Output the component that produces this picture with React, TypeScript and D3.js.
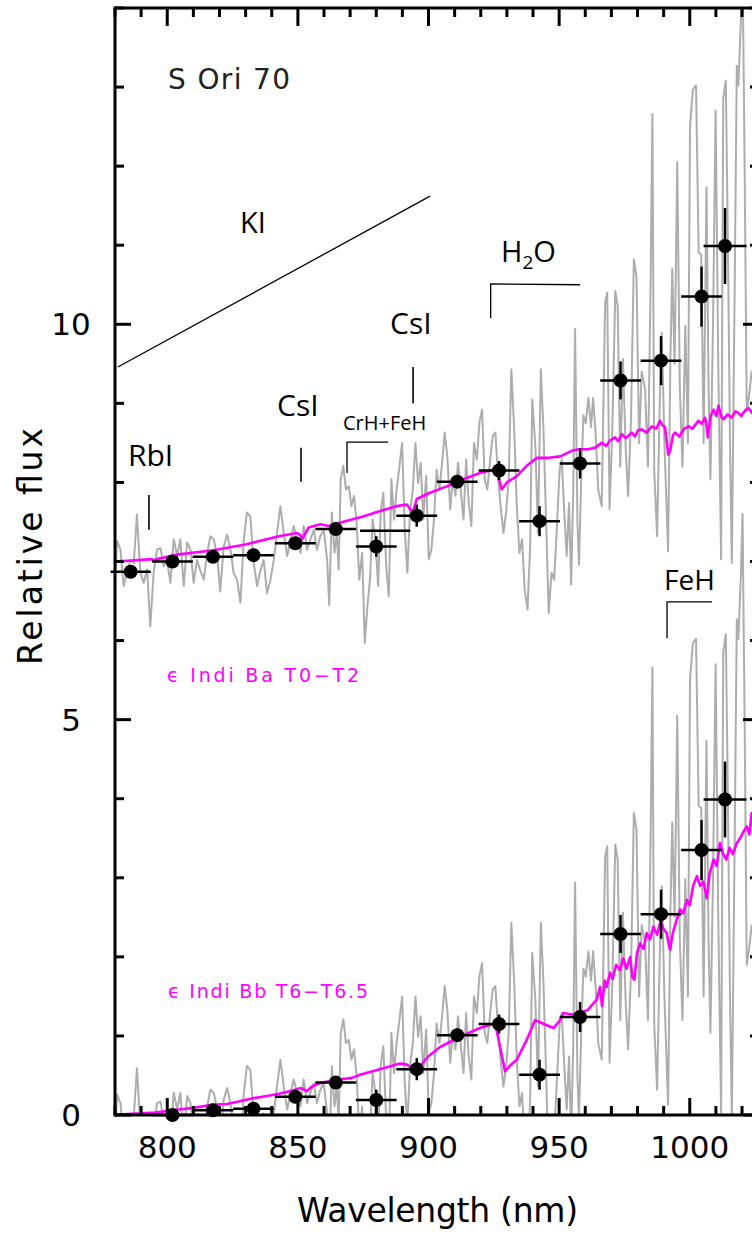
import React from 'react';
import * as d3 from 'd3';

const W = 752;
const H = 1237;
const xDomain = [780, 1026.5];
const yDomain = [0, 14];
const xMajorTicks = [800, 850, 900, 950, 1000];
const yMajorTicks = [0, 5, 10];
const OFFSET = 7; // upper copy is shifted by +7

// S Ori 70 observed spectrum (gray), un-offset relative flux
const specWl = [780.0,780.8,782.1,783.3,784.6,785.9,787.2,788.4,789.7,791.0,792.3,793.5,794.8,796.1,797.4,798.6,799.9,801.2,802.5,803.8,805.0,806.3,807.6,808.9,810.1,811.4,812.7,814.0,815.2,816.5,817.8,819.1,820.3,821.6,822.9,824.2,825.4,826.7,828.0,829.3,830.5,831.8,833.1,834.4,835.6,836.9,838.2,839.5,840.8,842.0,843.3,844.6,845.9,847.1,848.4,849.7,851.0,852.2,853.5,854.8,856.1,857.3,858.6,859.9,861.2,862.0,863.0,864.0,864.9,865.6,866.4,867.4,868.4,869.5,870.5,871.5,872.5,873.5,874.6,875.6,876.6,877.6,878.6,879.7,880.7,881.7,882.7,883.8,884.8,885.8,886.8,887.8,888.9,889.9,890.9,891.9,892.9,894.0,895.0,896.0,897.0,898.0,899.1,900.1,901.1,902.1,903.1,904.2,905.2,906.2,907.2,908.3,909.3,910.3,911.3,912.3,913.4,914.4,915.4,916.4,917.4,918.5,919.5,920.5,921.5,922.5,923.6,924.6,925.6,926.6,927.6,928.7,929.7,930.7,931.7,932.8,933.8,934.8,935.8,936.8,937.9,938.9,939.7,940.9,941.9,943.0,944.0,945.0,946.0,947.1,948.1,949.1,950.2,951.0,952.0,952.9,953.8,954.6,955.4,956.1,957.0,957.6,958.5,959.3,960.2,961.2,962.2,963.0,964.0,965.0,966.3,967.6,968.4,969.3,970.3,971.5,972.4,973.4,974.4,975.5,976.4,977.5,978.6,979.6,980.6,981.6,982.9,984.0,985.0,985.7,986.4,987.5,988.5,989.3,990.3,991.7,992.6,993.3,994.2,995.2,996.2,997.2,998.3,999.3,1000.1,1001.2,1002.4,1003.4,1004.4,1005.3,1006.4,1007.2,1007.9,1008.9,1009.9,1010.9,1012.0,1012.8,1013.8,1014.6,1015.4,1016.1,1017.2,1018.0,1018.6,1019.6,1020.2,1021.0,1021.8,1022.7,1023.7,1024.6,1025.6,1026.5];
const specFlux = [-0.23,0.26,0.15,-0.31,-0.14,0.02,-0.02,0.59,-0.14,-0.27,-0.10,-0.82,-0.14,0.15,0.17,-0.06,0.02,-0.27,0.28,0.07,0.28,-0.31,0.24,0.15,-0.27,0.02,-0.12,-0.23,0.09,0.32,0.28,0.07,-0.38,0.19,0.34,0.15,-0.14,-0.23,-0.52,0.28,0.62,0.57,-0.02,-0.31,-0.12,0.02,-0.40,-0.23,0.02,0.36,0.70,0.36,0.07,0.26,0.45,0.28,0.11,0.45,0.15,0.28,0.40,0.15,0.32,0.40,0.02,-0.55,0.62,0.11,0.36,-0.10,1.04,1.21,0.91,0.95,0.70,0.83,0.49,-0.23,0.11,-1.03,-0.57,-0.23,0.53,0.28,-0.31,0.62,0.87,-0.06,-0.44,1.04,0.53,0.91,1.21,1.50,0.41,-0.14,0.62,0.91,1.50,0.99,1.25,0.53,1.08,0.03,0.15,0.53,1.16,0.91,1.25,1.63,1.33,0.66,1.04,0.83,1.25,0.91,0.53,1.29,0.74,0.45,1.50,1.29,1.76,1.92,1.04,0.91,1.29,1.59,1.63,1.08,0.70,0.36,0.62,1.04,2.43,1.67,0.70,0.11,0.28,-0.35,-0.61,0.19,2.05,1.46,0.36,2.43,1.67,0.53,-0.65,-0.14,-0.23,0.41,1.16,1.29,0.60,0.07,0.74,-0.29,0.90,2.94,0.50,-0.04,1.10,1.85,1.75,2.07,1.70,2.07,1.60,0.90,0.70,3.27,3.40,0.66,1.60,3.42,3.23,1.20,2.56,1.40,0.83,1.80,3.82,3.61,1.50,2.40,2.18,1.20,3.50,5.66,1.14,0.32,2.00,2.89,1.50,0.13,2.60,3.70,2.50,5.05,2.20,1.20,2.98,1.50,5.51,5.97,6.02,3.91,3.88,1.50,4.73,2.20,1.04,3.00,5.70,2.50,0.03,5.85,6.08,4.00,1.50,-0.02,3.50,6.27,6.02,6.86,7.60,5.00,1.90,2.10,2.40,2.20,2.60,2.80];

// epsilon Indi Ba (T0-T2) template, magenta (drawn with +7 offset)
const baWl = [779.0,785,790,794.2,795,796,804.4,817.1,829.9,842.7,849.7,850.8,851.6,852.6,854.1,858.6,861.8,866,875,881.5,887.8,891.7,893,894,895.5,900.6,907,913.4,919.7,924.8,926.5,928.0,930,933.8,937.6,941.4,945.3,950.4,954.8,957.5,961.2,963.8,966.3,968,969.5,971.4,972.6,974,975.5,977.8,979,980.2,981.6,983.5,985.5,987.2,988.6,989.6,990.5,991.8,992.5,993.6,994.4,996.0,997.6,999.5,1001.0,1003.3,1004.6,1005.9,1006.5,1006.9,1008.0,1009.1,1010.2,1011.0,1012.2,1013.0,1014.5,1016.1,1017.5,1018.6,1019.8,1020.5,1021.5,1022.5,1023.8,1025.0,1026.5];
const baFlux = [0.00,0.01,0.02,0.03,0.015,0.03,0.09,0.14,0.215,0.32,0.36,0.34,0.28,0.34,0.43,0.47,0.45,0.49,0.57,0.64,0.70,0.72,0.66,0.62,0.79,0.87,0.95,1.04,1.12,1.16,1.10,0.91,1.00,1.08,1.21,1.31,1.31,1.33,1.40,1.42,1.42,1.44,1.50,1.46,1.53,1.57,1.52,1.61,1.56,1.63,1.58,1.66,1.67,1.63,1.71,1.68,1.78,1.72,1.70,1.35,1.40,1.60,1.63,1.58,1.67,1.71,1.68,1.78,1.74,1.82,1.70,1.57,1.84,1.92,1.84,1.97,1.82,1.80,1.86,1.82,1.90,1.88,1.84,1.88,1.92,1.94,1.88,1.96,1.98];

// epsilon Indi Bb (T6-T6.5) template, magenta (no offset)
const bbWl = [779.0,790,795.4,800,804.4,810,817.1,822.8,827.3,832.4,838.1,842.7,848,850.8,852,853.4,855.4,858,863.6,870.7,873.8,882.7,889.1,891.5,893,894.5,895.5,897,898.8,900.6,904.4,912.1,919.7,925.5,927.4,929.3,931,933.8,937.6,940.8,943.5,947.8,950,951.6,955,958,961,964.4,965.7,966.4,967.5,968.2,969.5,970.5,971.8,973.3,974.5,975.8,977.2,978.0,978.8,979.8,981.0,982.3,983.5,984.8,986.1,987.5,988.8,990.0,991.2,992.0,992.5,993.5,995.0,996.3,997.5,998.9,1000.0,1001.3,1002.7,1004.0,1005.2,1006.5,1007.6,1009.1,1010.3,1011.6,1012.8,1014.0,1015.2,1016.5,1018.0,1019.3,1020.5,1021.8,1022.8,1023.7,1024.8,1026.5];
const bbFlux = [0.00,0.02,0.03,0.05,0.07,0.09,0.13,0.14,0.17,0.21,0.24,0.27,0.31,0.34,0.33,0.30,0.36,0.40,0.44,0.47,0.51,0.59,0.65,0.64,0.61,0.55,0.51,0.62,0.70,0.76,0.86,0.99,1.10,1.16,0.86,0.55,0.62,0.70,0.95,1.20,1.16,1.10,1.18,1.29,1.27,1.29,1.33,1.46,1.62,1.38,1.70,1.62,1.80,1.72,1.90,1.83,1.98,1.85,2.00,1.75,1.71,2.05,2.17,2.10,2.30,2.22,2.38,2.28,2.45,2.35,2.30,2.15,2.09,2.30,2.47,2.60,2.55,2.72,2.65,2.90,3.02,2.90,2.95,2.74,3.05,3.23,3.15,3.44,3.30,3.23,3.38,3.30,3.44,3.50,3.58,3.65,3.55,3.82,3.75,3.85];

// Photometric points (un-offset), with vertical errors; bin half-width in nm
const photWl = [786, 802, 817.5, 833, 849, 864.5, 880, 895.5, 911, 927, 942.5, 958, 973.5, 989, 1004.5, 1013.5];
const photFlux = [-0.13, 0.0, 0.06, 0.08, 0.23, 0.41, 0.19, 0.58, 1.01, 1.15, 0.51, 1.24, 2.29, 2.54, 3.35, 3.99];
const photErr = [0.03, 0.04, 0.04, 0.05, 0.06, 0.07, 0.13, 0.14, 0.08, 0.12, 0.19, 0.19, 0.24, 0.31, 0.38, 0.48];
const photHalfBin = [7.7, 7.8, 7.8, 7.8, 7.8, 7.8, 7.8, 7.8, 7.8, 7.8, 7.8, 7.8, 7.8, 7.8, 7.8, 8.2];

// Extra horizontal bar in the upper set (no marker)
const extraBarWl = [883.4];
const extraBarFlux = [7.39];
const extraBarHalf = [9.6];

const labelFont = "'Open Sans', 'DejaVu Sans', sans-serif";
const plotFont = "'DejaVu Sans', sans-serif";

export default function App() {
  const x = d3.scaleLinear().domain(xDomain).range([115, 759]);
  const y = d3.scaleLinear().domain(yDomain).range([1115, 8]);
  const line = d3
    .line<[number, number]>()
    .x((d) => x(d[0]))
    .y((d) => y(d[1]));

  const spec: [number, number][] = specWl.map((w, i) => [w, specFlux[i]]);
  const specUp: [number, number][] = specWl.map((w, i) => [w, specFlux[i] + OFFSET]);
  const ba: [number, number][] = baWl.map((w, i) => [w, baFlux[i] + OFFSET]);
  const bb: [number, number][] = bbWl.map((w, i) => [w, bbFlux[i]]);

  const xMinor = d3.range(780, 1027, 10).filter((v) => !xMajorTicks.includes(v));
  const yMinor = d3.range(0, 15, 1).filter((v) => !yMajorTicks.includes(v));

  const x0 = x(xDomain[0]);
  const x1 = x(xDomain[1]);
  const y0 = y(yDomain[0]);
  const y1 = y(yDomain[1]);

  const pts: { w: number; f: number; e: number; h: number }[] = [];
  photWl.forEach((w, i) => {
    pts.push({ w, f: photFlux[i] + OFFSET, e: photErr[i], h: photHalfBin[i] });
    if (photFlux[i] >= -0.05) pts.push({ w, f: photFlux[i], e: photErr[i], h: photHalfBin[i] });
  });

  const tickCol = '#000';

  return (
    <svg
      width={W}
      height={H}
      viewBox={`0 0 ${W} ${H}`}
      style={{ position: 'absolute', left: 0, top: 0, background: '#fff' }}
    >
      <defs>
        <clipPath id="plotClip">
          <rect x={x0} y={y1} width={x1 - x0} height={y0 - y1} />
        </clipPath>
      </defs>
      <rect x={0} y={0} width={W} height={H} fill="#fff" />

      {/* spectra */}
      <g clipPath="url(#plotClip)" fill="none">
        <path d={line(spec) || ''} stroke="#adadad" strokeWidth={2} strokeLinejoin="round" />
        <path d={line(specUp) || ''} stroke="#adadad" strokeWidth={2} strokeLinejoin="round" />
        <path d={line(ba) || ''} stroke="#ff00ff" strokeWidth={2.6} strokeLinejoin="round" />
        <path d={line(bb) || ''} stroke="#ff00ff" strokeWidth={2.6} strokeLinejoin="round" />
      </g>

      {/* photometric points */}
      <g stroke="#000" strokeWidth={2.5}>
        {pts.map((p, i) => (
          <g key={i}>
            <line x1={x(p.w - p.h)} x2={x(p.w + p.h)} y1={y(p.f)} y2={y(p.f)} />
            <line x1={x(p.w)} x2={x(p.w)} y1={y(p.f - p.e)} y2={y(p.f + p.e)} />
            <circle cx={x(p.w)} cy={y(p.f)} r={7} fill="#000" stroke="none" />
          </g>
        ))}
        {extraBarWl.map((w, i) => (
          <line
            key={'eb' + i}
            x1={x(w - extraBarHalf[i])}
            x2={x(w + extraBarHalf[i])}
            y1={y(extraBarFlux[i])}
            y2={y(extraBarFlux[i])}
          />
        ))}
      </g>

      {/* line annotations */}
      <g stroke="#000" fill="none">
        <line x1={x(781.1)} y1={y(9.46)} x2={x(900.6)} y2={y(11.62)} strokeWidth={1.3} />
        <line x1={x(793.0)} x2={x(793.0)} y1={y(7.84)} y2={y(7.40)} strokeWidth={1.6} />
        <line x1={x(851.2)} x2={x(851.2)} y1={y(8.44)} y2={y(8.01)} strokeWidth={1.6} />
        <line x1={x(894.1)} x2={x(894.1)} y1={y(9.46)} y2={y(9.0)} strokeWidth={1.6} />
        <polyline
          points={`${x(868.8)},${y(8.12)} ${x(868.8)},${y(8.51)} ${x(884.5)},${y(8.51)}`}
          strokeWidth={1.3}
        />
        <polyline
          points={`${x(923.8)},${y(10.08)} ${x(923.8)},${y(10.51)} ${x(958)},${y(10.50)}`}
          strokeWidth={1.3}
        />
        <polyline
          points={`${x(991.3)},${y(6.03)} ${x(991.3)},${y(6.49)} ${x(1008.5)},${y(6.49)}`}
          strokeWidth={1.3}
        />
      </g>

      <g fontFamily={labelFont} fill="#000">
        <text x={128} y={466} fontSize={30}>RbI</text>
        <text x={277} y={416} fontSize={30}>CsI</text>
        <text x={390} y={334} fontSize={30}>CsI</text>
        <text x={240} y={233} fontSize={29}>KI</text>
        <text x={664} y={590} fontSize={28}>FeH</text>
        <text x={343} y={430} fontSize={20}>CrH+FeH</text>
        <text x={501} y={262} fontSize={29}>
          H<tspan dy={7} fontSize={19}>2</tspan>
          <tspan dy={-7}>O</tspan>
        </text>
      </g>

      <g fontFamily={plotFont}>
        <text x={168} y={89} fontSize={28} fill="#222" textLength={122} lengthAdjust="spacing">
          S Ori 70
        </text>
        <text x={167} y={682} fontSize={19} fill="#ff00ff" textLength={192} lengthAdjust="spacing">
          ϵ Indi Ba T0−T2
        </text>
        <text x={168} y={998} fontSize={19} fill="#ff00ff" textLength={200} lengthAdjust="spacing">
          ϵ Indi Bb T6−T6.5
        </text>
      </g>

      {/* frame */}
      <g stroke={tickCol} strokeWidth={3} fill="none">
        <line x1={x0} x2={x0} y1={y1 - 1.5} y2={y0 + 1.5} />
        <line x1={x0} x2={x1} y1={y0} y2={y0} />
        <line x1={x0} x2={x1} y1={y1} y2={y1} />
        <line x1={x1} x2={x1} y1={y1} y2={y0} />
        {xMajorTicks.map((v) => (
          <g key={'xM' + v}>
            <line x1={x(v)} x2={x(v)} y1={y0} y2={y0 - 17} />
            <line x1={x(v)} x2={x(v)} y1={y1} y2={y1 + 18} />
          </g>
        ))}
        {xMinor.map((v) => (
          <g key={'xm' + v}>
            <line x1={x(v)} x2={x(v)} y1={y0} y2={y0 - 9} />
            <line x1={x(v)} x2={x(v)} y1={y1} y2={y1 + 9} />
          </g>
        ))}
        {yMajorTicks.map((v) => (
          <g key={'yM' + v}>
            <line x1={x0} x2={x0 + 16} y1={y(v)} y2={y(v)} />
            <line x1={x1} x2={x1 - 16} y1={y(v)} y2={y(v)} />
          </g>
        ))}
        {yMinor.map((v) => (
          <g key={'ym' + v}>
            <line x1={x0} x2={x0 + 9} y1={y(v)} y2={y(v)} />
            <line x1={x1} x2={x1 - 9} y1={y(v)} y2={y(v)} />
          </g>
        ))}
      </g>

      {/* tick labels */}
      <g fontFamily={plotFont} fontSize={31} fill="#000" textAnchor="middle">
        {xMajorTicks.map((v) => (
          <text key={'xl' + v} x={x(v)} y={1158}>
            {v}
          </text>
        ))}
        {yMajorTicks.map((v) => (
          <text key={'yl' + v} x={71} y={y(v) + 11}>
            {v}
          </text>
        ))}
      </g>

      {/* axis titles */}
      <text
        x={297}
        y={1222}
        fontFamily={plotFont}
        fontSize={33}
        textLength={281}
        lengthAdjust="spacing"
        fill="#000"
      >
        Wavelength (nm)
      </text>
      <text
        transform={`translate(42,665) rotate(-90)`}
        fontFamily={plotFont}
        fontSize={33}
        textLength={237}
        lengthAdjust="spacing"
        fill="#000"
      >
        Relative flux
      </text>
    </svg>
  );
}
